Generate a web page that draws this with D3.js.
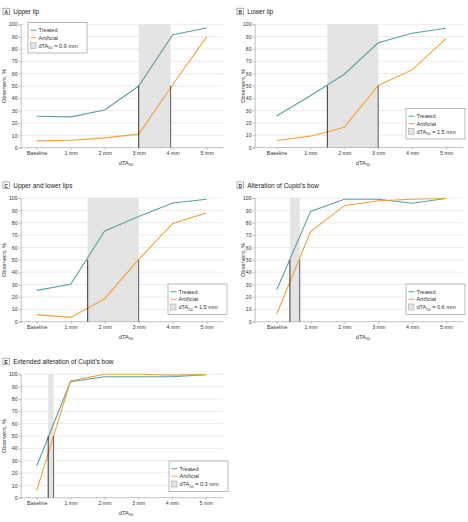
<!DOCTYPE html>
<html>
<head>
<meta charset="utf-8">
<script src="https://cdn.jsdelivr.net/npm/d3@7"></script>
<style>
  html, body { margin: 0; padding: 0; background: #fff; }
  svg { display: block; font-family: "Liberation Sans Narrow", "Liberation Sans", Arial, sans-serif; }
</style>
</head>
<body>
<svg id="chart" width="468" height="522"></svg>
<script>
// ---- Data ----
const categories = ["Baseline", "1 mm", "2 mm", "3 mm", "4 mm", "5 mm"];
const yTicks = [0, 10, 20, 30, 40, 50, 60, 70, 80, 90, 100];
const panelLetters = ["A", "B", "C", "D", "E"];
const panelTitles = ["Upper lip", "Lower lip", "Upper and lower lips", "Alteration of Cupid\u2019s bow", "Extended alteration of Cupid\u2019s bow"];
const treatedA = [25.5, 25, 30.5, 50, 91.5, 97];
const artificialA = [5.5, 6, 8, 11, 51, 90];
const treatedB = [25.5, 42, 59.5, 85, 92.7, 96.8];
const artificialB = [5.7, 9.2, 16.5, 50.4, 63, 88.3];
const treatedC = [25.3, 30.2, 73.3, 85, 96, 99];
const artificialC = [5.7, 3.5, 18.6, 50.4, 79.5, 88.1];
const treatedD = [25.6, 89.2, 99, 99, 95.8, 99.6];
const artificialD = [6.2, 72.8, 93.8, 97.8, 99, 99.6];
const treatedE = [25.7, 94, 98, 98, 98, 99.7];
const artificialE = [5.7, 94.6, 100, 100, 99.3, 99.7];
// x position (in mm; Baseline = 0) where each series reaches 50%
const dta50Treated = [3.0, 1.5, 1.5, 0.39, 0.34];
const dta50Artificial = [3.94, 3.0, 3.0, 0.68, 0.5];
const dta50Labels = ["0.9 mm", "1.5 mm", "1.5 mm", "0.6 mm", "0.3 mm"];
const seriesNames = ["Treated", "Artificial"];

const treatedAll = [treatedA, treatedB, treatedC, treatedD, treatedE];
const artificialAll = [artificialA, artificialB, artificialC, artificialD, artificialE];

// ---- Layout ----
const panels = [
  { gl: 20.7, gr: 223.3, x0: 36.7, x5: 206.7, top: 24.3, bottom: 147.7, ylab: 4.2, titleX: 2.7, legX: 28, legY: 22.5 },
  { gl: 254.7, gr: 463.3, x0: 276.5, x5: 446, top: 24.3, bottom: 147.5, ylab: 243.4, titleX: 236.7, legX: 406, legY: 108.5 },
  { gl: 20.7, gr: 223.3, x0: 36.7, x5: 206.7, top: 198, bottom: 321.7, ylab: 4.2, titleX: 2.7, legX: 168, legY: 284 },
  { gl: 254.7, gr: 463.3, x0: 276.7, x5: 446, top: 198, bottom: 321.7, ylab: 243.4, titleX: 236.7, legX: 406, legY: 284 },
  { gl: 20.7, gr: 223.3, x0: 36.7, x5: 205.7, top: 374.3, bottom: 497.7, ylab: 4.2, titleX: 2.7, legX: 169, legY: 461 }
];

const colTreated = "#5c9fa3";
const colArtificial = "#f2a23a";
const colShade = "#e4e4e4";
const colGrid = "#dedede";
const colAxis = "#9a9a9a";
const colText = "#333";

const svg = d3.select("#chart");

panels.forEach((p, i) => {
  const g = svg.append("g");
  const xPoint = d3.scalePoint().domain(categories).range([p.x0, p.x5]).padding(0);
  const xLin = d3.scaleLinear().domain([0, categories.length - 1]).range([p.x0, p.x5]);
  const y = d3.scaleLinear().domain([0, 100]).range([p.bottom, p.top]);

  // title
  const titleY = p.top - 12.3;
  g.append("rect").attr("x", p.titleX + 0.3).attr("y", titleY - 3.8).attr("width", 6.4).attr("height", 6.6)
    .attr("fill", "#fff").attr("stroke", "#777").attr("stroke-width", 0.6);
  g.append("text").attr("x", p.titleX + 3.5).attr("y", titleY + 1.8).attr("text-anchor", "middle")
    .attr("font-size", 4.8).attr("font-weight", "bold").attr("fill", "#222").text(panelLetters[i]);
  g.append("text").attr("x", p.titleX + 10.5).attr("y", titleY + 2.3)
    .attr("font-size", 6.5).attr("fill", "#222").text(panelTitles[i]);

  // gridlines
  g.append("g").selectAll("line").data(yTicks.filter(d => d > 0)).join("line")
    .attr("x1", p.gl).attr("x2", p.gr).attr("y1", d => y(d)).attr("y2", d => y(d))
    .attr("stroke", colGrid).attr("stroke-width", 0.6);

  // shaded region
  const xa = xLin(dta50Treated[i]), xb = xLin(dta50Artificial[i]);
  g.append("rect").attr("x", Math.min(xa, xb)).attr("y", y(100)).attr("width", Math.abs(xb - xa))
    .attr("height", y(0) - y(100)).attr("fill", colShade);

  // axes
  const yAxis = d3.axisLeft(y).tickValues(yTicks).tickSize(2).tickPadding(1.2);
  const ya = g.append("g").attr("transform", `translate(${p.gl},0)`).call(yAxis);
  ya.attr("font-family", null);
  ya.select(".domain").attr("stroke", colAxis).attr("stroke-width", 0.6);
  ya.selectAll(".tick line").attr("stroke", colAxis).attr("stroke-width", 0.6);
  ya.selectAll(".tick text").attr("font-size", 5.1).attr("fill", colText);

  const xAxis = d3.axisBottom(xPoint).tickSize(2).tickPadding(2);
  const xa2 = g.append("g").attr("transform", `translate(0,${p.bottom})`).call(xAxis);
  xa2.select(".domain").remove();
  xa2.attr("font-family", null);
  g.append("line").attr("x1", p.gl).attr("x2", p.gr).attr("y1", p.bottom).attr("y2", p.bottom)
    .attr("stroke", colAxis).attr("stroke-width", 0.6);
  xa2.selectAll(".tick line").attr("stroke", colAxis).attr("stroke-width", 0.6);
  xa2.selectAll(".tick text").attr("font-size", 5.3).attr("fill", colText);

  // axis titles
  const xt = g.append("text").attr("x", (p.gl + p.gr) / 2 + 4).attr("y", p.bottom + 17)
    .attr("text-anchor", "middle").attr("font-size", 5.8).attr("fill", colText);
  xt.append("tspan").text("dTA");
  xt.append("tspan").attr("font-size", 4).attr("dy", 1.6).text("50");
  g.append("text").attr("transform", `translate(${p.ylab + 2},${(p.top + p.bottom) / 2}) rotate(-90)`)
    .attr("text-anchor", "middle").attr("font-size", 5.6).attr("fill", colText).text("Observers, %");

  // lines
  const line = d3.line().x((d, k) => xPoint(categories[k])).y(d => y(d));
  g.append("path").datum(treatedAll[i]).attr("d", line).attr("fill", "none")
    .attr("stroke", colTreated).attr("stroke-width", 1.1);
  g.append("path").datum(artificialAll[i]).attr("d", line).attr("fill", "none")
    .attr("stroke", colArtificial).attr("stroke-width", 1.1);

  // vertical markers at 50%
  g.append("line").attr("x1", xa).attr("x2", xa).attr("y1", y(0)).attr("y2", y(50))
    .attr("stroke", "#1e1e1e").attr("stroke-width", 0.9);
  g.append("line").attr("x1", xb).attr("x2", xb).attr("y1", y(0)).attr("y2", y(50))
    .attr("stroke", "#4a4a4a").attr("stroke-width", 0.9);

  // legend
  const lg = g.append("g").attr("transform", `translate(${p.legX},${p.legY})`);
  lg.append("rect").attr("width", 59).attr("height", 30.5).attr("fill", "#fff")
    .attr("stroke", "#8a8a8a").attr("stroke-width", 0.6);
  [colTreated, colArtificial].forEach((c, k) => {
    const cy = 7.7 + k * 7.5;
    lg.append("line").attr("x1", 2.5).attr("x2", 8.5).attr("y1", cy).attr("y2", cy)
      .attr("stroke", c).attr("stroke-width", 1);
    lg.append("text").attr("x", 10.5).attr("y", cy + 2).attr("font-size", 5.6).attr("fill", colText)
      .text(seriesNames[k]);
  });
  const cy3 = 23;
  lg.append("rect").attr("x", 2.5).attr("y", cy3 - 3).attr("width", 5.5).attr("height", 6)
    .attr("fill", colShade).attr("stroke", "#999").attr("stroke-width", 0.5);
  const lt = lg.append("text").attr("x", 10.5).attr("y", cy3 + 2).attr("font-size", 5.6).attr("fill", colText);
  lt.append("tspan").text("dTA");
  lt.append("tspan").attr("font-size", 3.8).attr("dy", 1.5).text("50");
  lt.append("tspan").attr("dy", -1.5).text(" = " + dta50Labels[i]);
});
</script>
</body>
</html>
